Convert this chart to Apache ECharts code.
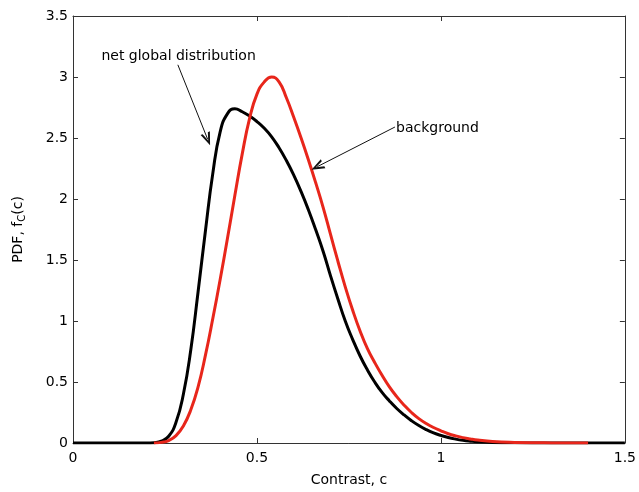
<!DOCTYPE html>
<html>
<head>
<meta charset="utf-8">
<script src="https://cdn.jsdelivr.net/npm/echarts@6/dist/echarts.min.js"></script>
<style>
  html, body { margin: 0; padding: 0; background: #fff; }
  #pdfChart { width: 639px; height: 492px; }
</style>
</head>
<body>
<div id="pdfChart"></div>
<script>
// values
var xTicks = [0, 0.5, 1, 1.5];
var yTicks = [0, 0.5, 1, 1.5, 2, 2.5, 3, 3.5];

// net global distribution (black)
var netX = [0, 0.20, 0.22, 0.24, 0.26, 0.28, 0.30, 0.32, 0.34, 0.36, 0.38, 0.40, 0.42, 0.44, 0.46, 0.48, 0.50, 0.52, 0.54, 0.56, 0.58, 0.60, 0.62, 0.64, 0.66, 0.68, 0.70, 0.72, 0.74, 0.76, 0.78, 0.80, 0.82, 0.84, 0.86, 0.88, 0.90, 0.92, 0.94, 0.96, 0.98, 1.00, 1.02, 1.04, 1.06, 1.08, 1.10, 1.14, 1.20, 1.30, 1.50];
var netY = [0, 0, 0.003, 0.015, 0.055, 0.17, 0.40, 0.76, 1.24, 1.74, 2.21, 2.55, 2.70, 2.74, 2.715, 2.68, 2.635, 2.58, 2.51, 2.42, 2.315, 2.195, 2.06, 1.91, 1.745, 1.57, 1.37, 1.18, 1.00, 0.85, 0.715, 0.60, 0.50, 0.415, 0.345, 0.283, 0.23, 0.183, 0.143, 0.11, 0.083, 0.062, 0.045, 0.032, 0.022, 0.015, 0.01, 0.005, 0.002, 0.0005, 0];

// background (red)
var bgX = [0.22, 0.24, 0.26, 0.28, 0.30, 0.32, 0.34, 0.36, 0.38, 0.40, 0.42, 0.44, 0.46, 0.48, 0.50, 0.52, 0.54, 0.56, 0.58, 0.60, 0.62, 0.64, 0.66, 0.68, 0.70, 0.72, 0.74, 0.76, 0.78, 0.80, 0.82, 0.84, 0.86, 0.88, 0.90, 0.92, 0.94, 0.96, 0.98, 1.00, 1.02, 1.04, 1.06, 1.08, 1.10, 1.14, 1.20, 1.30, 1.40];
var bgY = [0, 0.005, 0.02, 0.06, 0.14, 0.27, 0.46, 0.72, 1.02, 1.34, 1.68, 2.03, 2.37, 2.66, 2.86, 2.96, 3.00, 2.96, 2.83, 2.67, 2.50, 2.32, 2.13, 1.93, 1.71, 1.49, 1.28, 1.09, 0.92, 0.775, 0.66, 0.555, 0.46, 0.38, 0.31, 0.25, 0.20, 0.16, 0.127, 0.10, 0.076, 0.058, 0.044, 0.033, 0.024, 0.012, 0.005, 0.001, 0];

// annotations: text anchor and arrow (from -> to), in data units
var noteNames = ['net global distribution', 'background'];
var noteAt = [[0.287, 3.17], [0.878, 2.58]];
var arrowFrom = [[0.285, 3.10], [0.875, 2.59]];
var arrowTo = [[0.366, 2.49], [0.664, 2.265]];

function pairs(xs, ys) {
  return xs.map(function (x, i) { return [x, ys[i]]; });
}

var font = "'DejaVu Sans', 'Liberation Sans', Arial, sans-serif";
var axisColor = '#333';
var textColor = '#000';

function makeX(pos, labels) {
  return {
    type: 'value', position: pos, min: 0, max: 1.5, interval: 0.5,
    axisLine: { show: true, onZero: false, lineStyle: { color: axisColor, width: 1 } },
    axisTick: { show: true, inside: true, length: 5, lineStyle: { color: axisColor } },
    axisLabel: { show: labels, color: textColor, fontSize: 14, fontFamily: font, margin: 8,
      formatter: function (v) { return xTicks.indexOf(v) >= 0 ? String(v) : ''; } },
    splitLine: { show: false }
  };
}
function makeY(pos, labels) {
  return {
    type: 'value', position: pos, min: 0, max: 3.5, interval: 0.5,
    axisLine: { show: true, onZero: false, lineStyle: { color: axisColor, width: 1 } },
    axisTick: { show: true, inside: true, length: 5, lineStyle: { color: axisColor } },
    axisLabel: { show: labels, color: textColor, fontSize: 14, fontFamily: font, margin: 5,
      formatter: function (v) { return yTicks.indexOf(v) >= 0 ? String(v) : ''; } },
    splitLine: { show: false }
  };
}

var chart = echarts.init(document.getElementById('pdfChart'));

var xBottom = makeX('bottom', true);
xBottom.name = 'Contrast, c';
xBottom.nameLocation = 'middle';
xBottom.nameGap = 30;
xBottom.nameTextStyle = { color: textColor, fontSize: 14, fontFamily: font };

var yLeft = makeY('left', true);
yLeft.name = '{a|PDF, f}{b|C}{a|(c)}';
yLeft.nameLocation = 'middle';
yLeft.nameGap = 46;
yLeft.nameTextStyle = {
  color: textColor, fontFamily: font,
  rich: {
    a: { fontSize: 14, color: textColor, fontFamily: font },
    b: { fontSize: 10, color: textColor, fontFamily: font, padding: [7, 0, 0, 0] }
  }
};

chart.setOption({
  animation: false,
  backgroundColor: '#fff',
  grid: { left: 73, right: 14, top: 16, bottom: 42 },
  xAxis: [xBottom, makeX('top', false)],
  yAxis: [yLeft, makeY('right', false)],
  series: [
    {
      name: 'net global distribution', type: 'line', showSymbol: false, smooth: 0.5,
      lineStyle: { color: '#000', width: 3 },
      data: pairs(netX, netY), z: 2
    },
    {
      name: 'background', type: 'line', showSymbol: false, smooth: 0.5,
      lineStyle: { color: '#e8261b', width: 3 },
      data: pairs(bgX, bgY), z: 3
    },
    {
      name: 'notes', type: 'scatter', symbolSize: 0, silent: true,
      itemStyle: { opacity: 1 },
      data: noteNames.map(function (n, i) { return { name: n, value: noteAt[i] }; }),
      label: {
        show: true, color: textColor, fontSize: 14, fontFamily: font,
        formatter: function (p) { return p.name; }
      },
      labelLayout: function (p) {
        return p.dataIndex === 0 ? { align: 'center' } : { align: 'left' };
      },
      markLine: {
        silent: true,
        symbol: ['none', 'path://M5,0 L10,13 L7.8,13 L5,5 L2.2,13 L0,13 Z'],
        symbolSize: [10, 13],
        lineStyle: { color: '#111', width: 1, type: 'solid' },
        itemStyle: { color: '#111' },
        label: { show: false },
        data: arrowFrom.map(function (f, i) {
          return [{ coord: f }, { coord: arrowTo[i] }];
        })
      }
    }
  ]
});
window.addEventListener('resize', chart.resize);
</script>
</body>
</html>
